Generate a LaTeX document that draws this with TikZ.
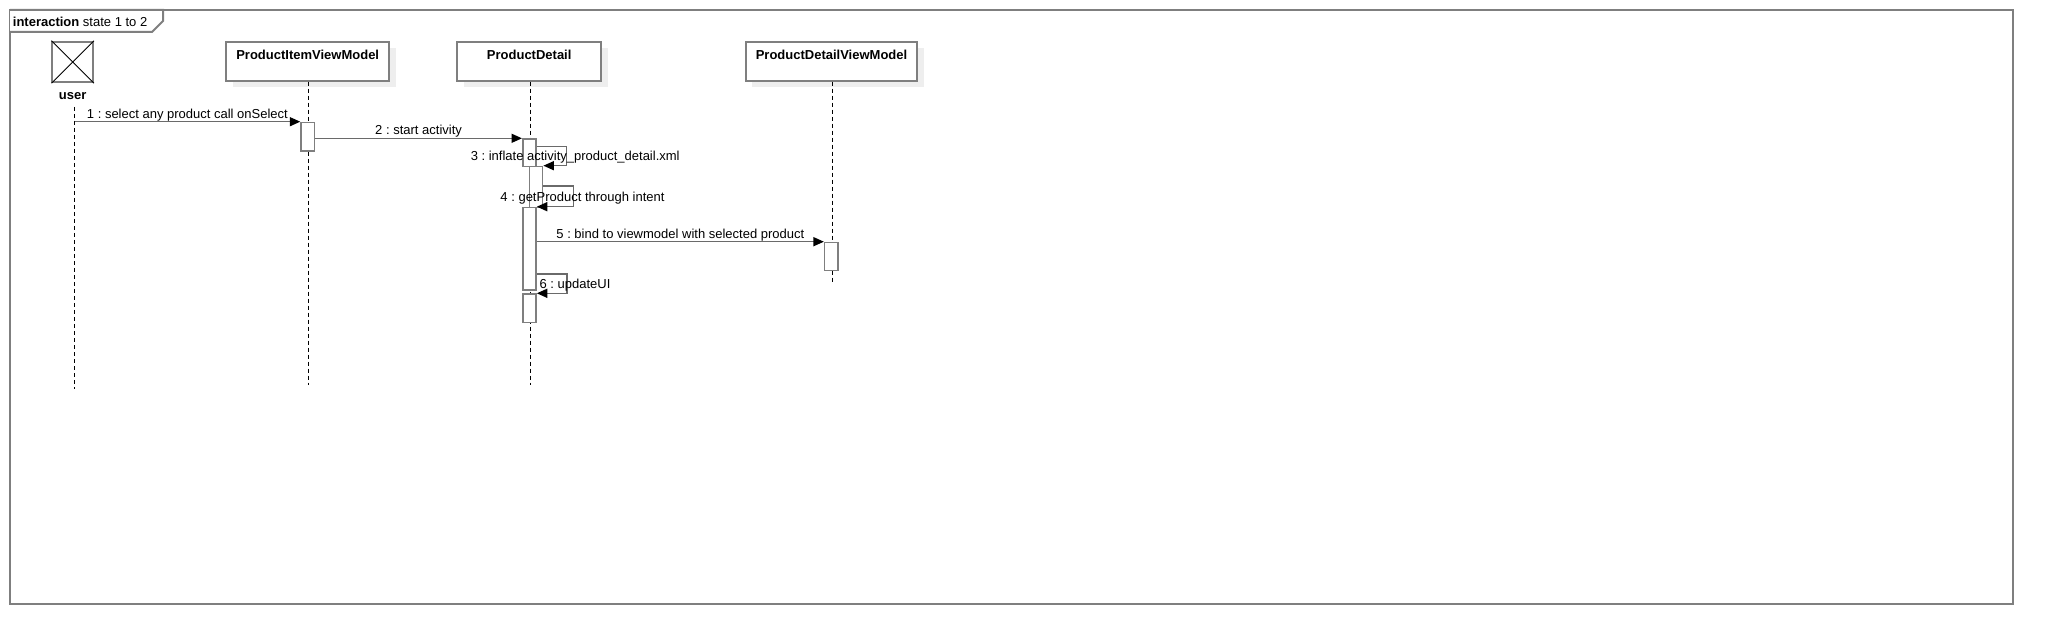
\documentclass[tikz,border=0pt]{standalone}
\usepackage{fontspec}
\setmainfont{Liberation Sans}
\usetikzlibrary{arrows.meta,shadows}
\definecolor{edgegray}{HTML}{7F7F7F}
\definecolor{shadegray}{HTML}{EEEEEE}
\definecolor{msggray}{HTML}{6A6A6A}
\frenchspacing
\begin{document}
\begin{tikzpicture}[x=1pt,y=-1pt,
  font=\fontsize{13}{15}\selectfont,
  frameline/.style={draw=edgegray, line width=2pt},
  headbox/.style={draw=edgegray, line width=1.8pt, fill=white, minimum width=#1,
    minimum height=39pt, inner sep=0pt,
    general shadow={fill=shadegray, shadow xshift=6.5pt, shadow yshift=-6.5pt}},
  headtext/.style={anchor=base, font=\fontsize{13}{15}\selectfont\bfseries, inner sep=0pt},
  lifeline/.style={draw=black, line width=0.9pt, dash pattern=on 4pt off 3pt},
  actbox/.style={draw=edgegray, line width=1.5pt, fill=white, minimum width=13.3pt,
    minimum height=#1, inner sep=0pt, anchor=north},
  msg/.style={draw=msggray, line width=1.5pt,
    -{Triangle[length=10.5pt,width=9pt,color=black,fill=black]}},
  lbl/.style={anchor=base, inner sep=0pt}]

\useasboundingbox (0,0) rectangle (2053,644);

% frame
\draw[frameline] (10,10) rectangle (2013,604);
\draw[frameline, fill=white] (10,10) -- (163,10) -- (163,21) -- (152,32) -- (10,32);
\node[anchor=base west, inner sep=0pt] (title) at (12.7,26.3) {\textbf{interaction} state 1 to 2};

% user actor
\node[draw=edgegray, line width=1.8pt, minimum width=40.7pt, minimum height=40.6pt, inner sep=0pt] (user) at (72.7,62) {};
\draw[line width=0.9pt] (user.north west) -- (user.south east);
\draw[line width=0.9pt] (user.north east) -- (user.south west);
\node[headtext] (userlbl) at (72.7,99.3) {user};

% heads
\node[headbox=163.3pt] (pivm) at (307.7,61.2) {};
\node[headtext] (pivmlbl) at (307.7,59.8) {ProductItemViewModel};
\node[headbox=143.7pt] (pd) at (529.2,61.2) {};
\node[headtext] (pdlbl) at (529.2,59.8) {ProductDetail};
\node[headbox=171.6pt] (pdvm) at (831.5,61.2) {};
\node[headtext] (pdvmlbl) at (831.5,59.8) {ProductDetailViewModel};

% lifelines
\coordinate (utop) at (74.5,107);
\coordinate (ubot) at (74.5,389);
\coordinate (pivmbot) at (308,385);
\coordinate (pdbot) at (530,385);
\coordinate (pdvmbot) at (832,283);
\draw[lifeline] (utop) -- (ubot);
\draw[lifeline] (pivm.south -| pivmbot) -- (pivmbot);
\draw[lifeline] (pd.south -| pdbot) -- (pdbot);
\draw[lifeline] (pdvm.south -| pdvmbot) -- (pdvmbot);

% activations
\node[actbox=28.6pt] (pa) at (307.7,121.7) {};
\node[actbox=27.4pt] (d1) at (529.4,138.3) {};
\node[actbox=82.6pt] (d3) at (529.4,206.7) {};
\node[actbox=41pt] (d2) at (536.0,165.7) {};
\node[actbox=28.4pt] (d4) at (529.4,293.3) {};
\node[actbox=28pt] (v1) at (831.3,241.7) {};

% messages
\draw[msg] (pa.north west -| utop) -- node[lbl, yshift=3.6pt] (m1) {1 : select any product call onSelect} (pa.north west);
\draw[msg] (d1.north west -| pa.east) -- node[lbl, yshift=3.4pt] (m2) {2 : start activity} (d1.north west);
\draw[msg] ([yshift=-8.4pt]d1.north east) -| ([xshift=23.3pt]d2.north east) -- (d2.north east);
\node[lbl] (m3) at (575.2,160.6) {3 : inflate activity\_product\_detail.xml};
\draw[msg] ([yshift=-20.3pt]d2.north east) -| ([xshift=36.7pt]d3.north east) -- (d3.north east);
\node[lbl] (m4) at (582.5,201.3) {4 : getProduct through intent};
\draw[msg] (v1.north west -| d3.east) -- node[lbl, yshift=3.6pt] (m5) {5 : bind to viewmodel with selected product} (v1.north west);
\draw[msg] ([yshift=-67.3pt]d3.north east) -| ([xshift=30pt]d4.north east) -- (d4.north east);
\node[lbl] (m6) at (575,288.9) {6 : updateUI};
\end{tikzpicture}
\end{document}
